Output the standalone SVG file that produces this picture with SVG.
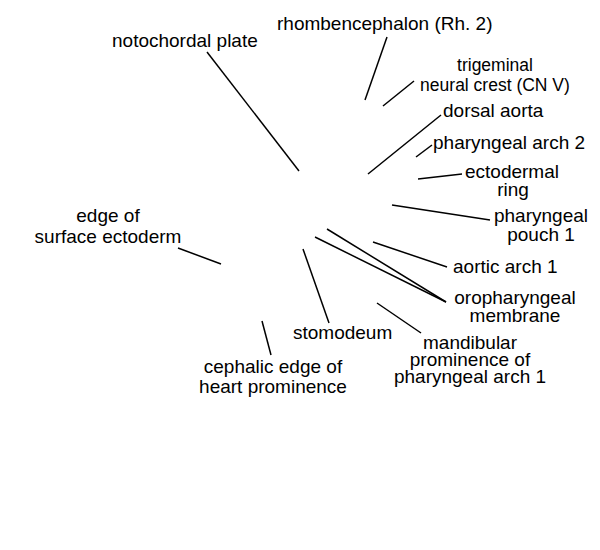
<svg xmlns="http://www.w3.org/2000/svg" width="600" height="550" viewBox="0 0 600 550">
<style>
.lbl{font-family:"Liberation Sans",Arial,sans-serif;font-size:19px;fill:#000}
.sm{font-size:17.5px}
.mid{text-anchor:middle}
.ln{stroke:#000;stroke-width:1.5;fill:none}
</style>
<rect width="600" height="550" fill="#fff"/>
<g id="connectors">
<line class="ln" x1="207" y1="52" x2="299" y2="171"/>
<line class="ln" x1="387" y1="37" x2="365" y2="100"/>
<line class="ln" x1="414" y1="81" x2="383" y2="106"/>
<line class="ln" x1="441" y1="115" x2="368" y2="174"/>
<line class="ln" x1="432" y1="145" x2="416" y2="157"/>
<line class="ln" x1="462" y1="174" x2="418" y2="179"/>
<line class="ln" x1="490" y1="220" x2="392" y2="205"/>
<line class="ln" x1="447" y1="267" x2="373" y2="242"/>
<line class="ln" x1="446" y1="302" x2="327" y2="229"/>
<line class="ln" x1="446" y1="302" x2="315" y2="237"/>
<line class="ln" x1="303" y1="249" x2="329" y2="323"/>
<line class="ln" x1="377" y1="303" x2="421" y2="333"/>
<line class="ln" x1="178" y1="248" x2="221" y2="264"/>
<line class="ln" x1="262" y1="321" x2="271" y2="355"/>
</g>
<g id="notochordal-plate"><text class="lbl" x="112" y="47">notochordal plate</text></g>
<g id="rhombencephalon"><text class="lbl" x="277" y="30">rhombencephalon (Rh. 2)</text></g>
<g id="trigeminal"><text class="lbl sm mid" x="495" y="71">trigeminal</text><text class="lbl sm mid" x="495" y="91">neural crest (CN V)</text></g>
<g id="dorsal-aorta"><text class="lbl" x="443" y="117">dorsal aorta</text></g>
<g id="pharyngeal-arch-2"><text class="lbl" x="433" y="149">pharyngeal arch 2</text></g>
<g id="ectodermal-ring"><text class="lbl mid" x="512" y="178">ectodermal</text><text class="lbl mid" x="513" y="196">ring</text></g>
<g id="pharyngeal-pouch-1"><text class="lbl mid" x="541" y="222">pharyngeal</text><text class="lbl mid" x="541" y="241">pouch 1</text></g>
<g id="aortic-arch-1"><text class="lbl" x="453" y="273">aortic arch 1</text></g>
<g id="oropharyngeal-membrane"><text class="lbl mid" x="515" y="304">oropharyngeal</text><text class="lbl mid" x="515" y="322">membrane</text></g>
<g id="mandibular"><text class="lbl mid" x="470" y="349">mandibular</text><text class="lbl mid" x="470" y="366">prominence of</text><text class="lbl mid" x="470" y="383">pharyngeal arch 1</text></g>
<g id="stomodeum"><text class="lbl" x="293" y="339">stomodeum</text></g>
<g id="cephalic-edge"><text class="lbl mid" x="273" y="373">cephalic edge of</text><text class="lbl mid" x="273" y="393">heart prominence</text></g>
<g id="surface-ectoderm"><text class="lbl mid" x="108" y="222">edge of</text><text class="lbl mid" x="108" y="243">surface ectoderm</text></g>
</svg>
